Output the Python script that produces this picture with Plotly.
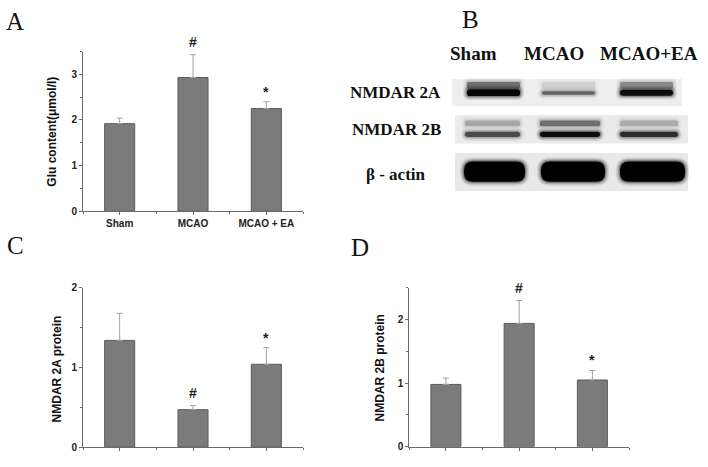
import plotly.graph_objects as go

# ---------------- data ----------------
groups = ["Sham", "MCAO", "MCAO + EA"]
glu_mean = [1.92, 2.93, 2.25]
glu_err = [0.12, 0.50, 0.15]
nr2a_mean = [1.34, 0.47, 1.04]
nr2a_err = [0.34, 0.05, 0.21]
nr2b_mean = [0.98, 1.94, 1.05]
nr2b_err = [0.10, 0.36, 0.15]
sig_marks = ["", "#", "*"]
blot_lanes = ["Sham", "MCAO", "MCAO+EA"]
blot_rows = ["NMDAR 2A", "NMDAR 2B", "β - actin"]

W, H = 708, 467
def X(px): return px / W
def Y(py): return 1 - py / H

BAR_FILL = "#7b7b7b"
BAR_LINE = "#5c5c5c"
AX_COL = "#6a6a6a"
SANS = "Liberation Sans, Arial, sans-serif"
SERIF = "Liberation Serif, Times New Roman, serif"

fig = go.Figure()

panels = [
    # (values, errors, xaxis, yaxis, ymax, xdomain(px), ydomain(px), show labels)
    (glu_mean, glu_err, "x", "y", 3.5, (83, 303), (210.7, 46.7), True),
    (nr2a_mean, nr2a_err, "x2", "y2", 2.0, (83, 303), (452.7, 289.3), False),
    (nr2b_mean, nr2b_err, "x3", "y3", 2.5, (409.3, 629), (452.3, 289.3), False),
]

layout_axes = {}
annotations = []
for i, (m, e, xa, ya, ymax, xd, yd, showlab) in enumerate(panels):
    fig.add_trace(go.Bar(
        x=[0, 1, 2], y=m, width=0.41, xaxis=xa, yaxis=ya,
        marker=dict(color=BAR_FILL, line=dict(color=BAR_LINE, width=1)),
        error_y=dict(type="data", array=e, arrayminus=[0, 0, 0], symmetric=False,
                     color="#a0a0a0", thickness=1, width=3),
        showlegend=False, hoverinfo="skip",
    ))
    xkey = "xaxis" if xa == "x" else "xaxis" + xa[1:]
    ykey = "yaxis" if ya == "y" else "yaxis" + ya[1:]
    layout_axes[xkey] = dict(
        domain=[X(xd[0]), X(xd[1])], range=[-0.5, 2.5], anchor=ya,
        showgrid=False, zeroline=False, showline=True, linecolor=AX_COL, linewidth=1,
        ticks="outside", ticklen=3, tickcolor=AX_COL,
        tickmode="array", tickvals=[0, 1, 2],
        ticktext=groups if showlab else ["", "", ""],
        tickfont=dict(family=SANS, size=10, color="#222", weight="bold"),
        minor=dict(tickmode="array", tickvals=[-0.5, 0.5, 1.5, 2.5], ticks="outside",
                   ticklen=2, tickcolor=AX_COL),
        fixedrange=True,
    )
    layout_axes[ykey] = dict(
        domain=[Y(yd[0]), Y(yd[1])], range=[0, ymax], anchor=xa,
        showgrid=False, zeroline=False, showline=True, linecolor=AX_COL, linewidth=1,
        ticks="outside", ticklen=3, tickcolor=AX_COL, dtick=1, tick0=0,
        tickfont=dict(family=SANS, size=10, color="#222", weight="bold"),
        minor=dict(dtick=0.5, ticks="outside", ticklen=2, tickcolor=AX_COL),
        fixedrange=True,
    )
    for j in range(3):
        if sig_marks[j]:
            annotations.append(dict(
                x=j, y=m[j] + e[j], xref=xa, yref=ya, text=sig_marks[j],
                showarrow=False, yanchor="bottom", yshift=3 if sig_marks[j] == "#" else 0,
                font=dict(family=SANS, size=14, color="#222", weight="bold")))

# axis titles
for txt, xpx, ypx in [("Glu content(μmol/l)", 52, 129),
                      ("NMDAR 2A protein", 57, 372),
                      ("NMDAR 2B protein", 380, 372)]:
    annotations.append(dict(x=X(xpx), y=Y(ypx), xref="paper", yref="paper", text=txt,
                            textangle=-90, showarrow=False, xanchor="center", yanchor="middle",
                            font=dict(family=SANS, size=12, color="#111", weight="bold")))

# panel letters
for txt, xpx, ypx in [("A", 15, 16), ("B", 470, 14), ("C", 15, 246), ("D", 360, 248)]:
    annotations.append(dict(x=X(xpx), y=Y(ypx), xref="paper", yref="paper", text=txt,
                            showarrow=False, xanchor="center", yanchor="middle",
                            font=dict(family=SERIF, size=25, color="#111")))

# blot headers and row labels
for txt, xpx in zip(blot_lanes, [473, 554, 649]):
    annotations.append(dict(x=X(xpx), y=Y(49), xref="paper", yref="paper", text=txt,
                            showarrow=False, xanchor="center", yanchor="middle",
                            font=dict(family=SERIF, size=19, color="#111", weight="bold")))
for txt, ypx in zip(blot_rows, [88.5, 126.5, 173]):
    annotations.append(dict(x=X(443 if txt != "β - actin" else 428), y=Y(ypx), xref="paper",
                            yref="paper", text=txt, showarrow=False, xanchor="right",
                            yanchor="middle",
                            font=dict(family=SERIF, size=17, color="#111", weight="bold")))

# ---------------- western blot (decorative image drawn with shapes) ----------------
shapes = []

def rrect(x0, x1, y0, y1, r, color):
    rx, ry = r / W, r / H
    a0, a1, b0, b1 = X(x0), X(x1), Y(y1), Y(y0)
    rx = min(rx, (a1 - a0) / 2)
    ry = min(ry, (b1 - b0) / 2)
    p = (f"M {a0+rx},{b0} L {a1-rx},{b0} Q {a1},{b0} {a1},{b0+ry} "
         f"L {a1},{b1-ry} Q {a1},{b1} {a1-rx},{b1} L {a0+rx},{b1} "
         f"Q {a0},{b1} {a0},{b1-ry} L {a0},{b0+ry} Q {a0},{b0} {a0+rx},{b0} Z")
    shapes.append(dict(type="path", path=p, xref="paper", yref="paper",
                       fillcolor=color, line=dict(width=0), layer="above"))

def band(x0, x1, y0, y1, alpha, r=3):
    for grow, k in [(4, 0.10), (2.5, 0.18), (1.2, 0.30)]:
        rrect(x0 - grow, x1 + grow, y0 - grow, y1 + grow, r + grow,
              f"rgba(0,0,0,{alpha*k:.3f})")
    rrect(x0, x1, y0, y1, r, f"rgba(0,0,0,{alpha:.3f})")

# strip backgrounds
for (x0, x1, y0, y1, c) in [(452, 682, 75, 103, "#eeeeee"),
                            (455, 688, 112, 141, "#ebebeb"),
                            (455, 688, 151, 190, "#e8e8e8")]:
    shapes.append(dict(type="rect", xref="paper", yref="paper", x0=X(x0), x1=X(x1),
                       y0=Y(y1), y1=Y(y0), fillcolor=c, line=dict(width=0), layer="above"))

lanes_2a = [(467, 520), (542, 595), (620, 673)]
smear_2a = [0.40, 0.08, 0.30]
core_2a = [(85.5, 92.5, 0.95), (87.5, 91, 0.45), (86, 92, 0.9)]
for (x0, x1), s, (c0, c1, a) in zip(lanes_2a, smear_2a, core_2a):
    band(x0, x1, 78, 85, s, r=2)
    band(x0, x1, c0, c1, a, r=3)

lanes_2b = [(465, 520), (540, 600), (620, 678)]
upper_2b = [0.20, 0.40, 0.18]
lower_2b = [0.55, 0.90, 0.70]
for (x0, x1), u, l in zip(lanes_2b, upper_2b, lower_2b):
    band(x0, x1, 117.5, 123.5, u, r=2)
    band(x0, x1, 129, 134.5, l, r=3)

lanes_act = [(464, 525), (541, 605), (620, 685)]
for (x0, x1) in lanes_act:
    band(x0, x1, 159.5, 180.5, 1.0, r=9)

fig.update_layout(
    width=W, height=H, margin=dict(l=0, r=0, t=0, b=0),
    paper_bgcolor="white", plot_bgcolor="white",
    bargap=0, showlegend=False, hovermode=False,
    annotations=annotations, shapes=shapes,
    **layout_axes,
)

fig.write_html("out.html", config={"displayModeBar": False, "staticPlot": True},
               post_script="document.body.style.margin='0';document.body.style.overflow='hidden';")
